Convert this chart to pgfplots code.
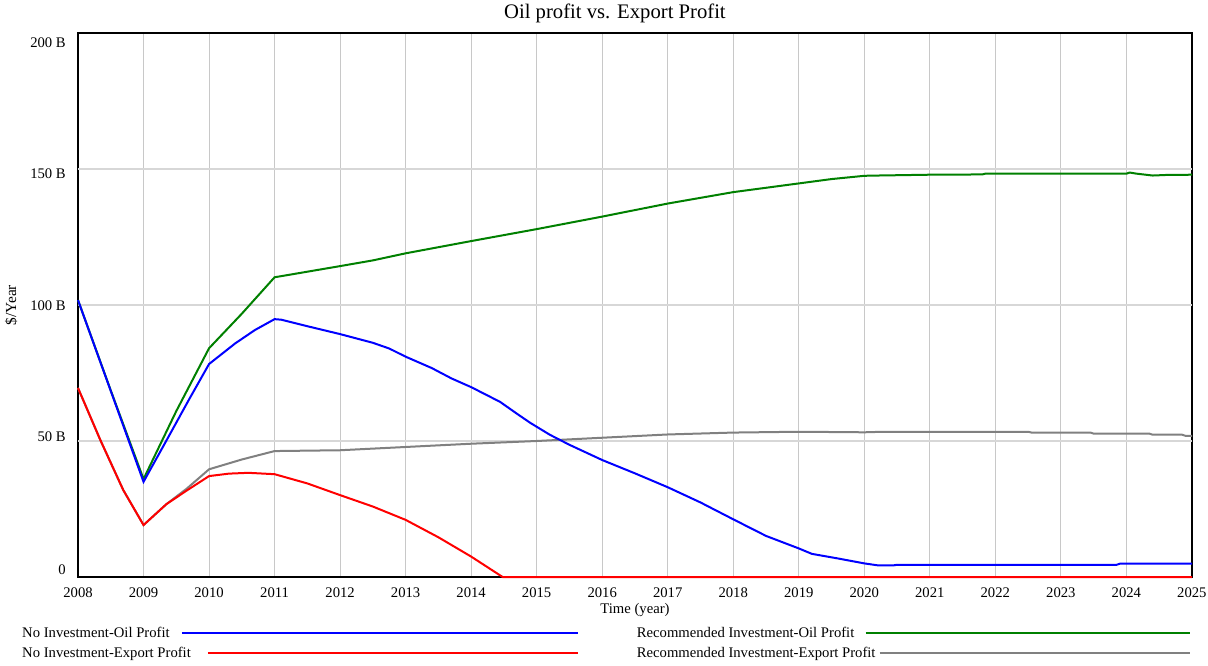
\documentclass[border=0pt]{standalone}
\usepackage{fontspec}
\setmainfont{Liberation Serif}
\usepackage{pgfplots}
\pgfplotsset{compat=1.18}
\definecolor{vblue}{RGB}{0,0,255}
\definecolor{vred}{RGB}{255,0,0}
\definecolor{vgreen}{RGB}{0,128,0}
\definecolor{vgray}{RGB}{128,128,128}
\definecolor{gridv}{RGB}{200,200,200}
\definecolor{gridh}{RGB}{215,215,215}
\begin{document}
\begin{tikzpicture}
\path[use as bounding box] (0,0) rectangle (906pt,498.75pt);
\begin{axis}[
  at={(58.5pt,66pt)}, anchor=south west,
  scale only axis, width=835.5pt, height=408pt,
  xmin=2008, xmax=2025, ymin=0, ymax=200,
  clip=false,
  xtick={2008,2009,...,2025},
  ytick={2.8,51.6,99.8,148.3,196.3},
  yticklabels={0,50 B,100 B,150 B,200 B},
  extra y ticks={50,100,150},
  extra y tick labels={},
  extra y tick style={grid=major, major grid style={gridh, line width=0.8pt}},
  xmajorgrids,
  major grid style={gridv, line width=0.8pt},
  major tick length=0pt,
  axis line style={black, line width=1.3pt},
  /pgf/number format/assume math mode=true,
  tick label style={font=\fontsize{11}{13}\selectfont},
  xticklabel style={/pgf/number format/1000 sep={}, anchor=base, yshift=-15pt},
  yticklabel style={anchor=east, inner sep=0pt, xshift=-9pt},
  xlabel={Time (year)},
  xlabel style={at={(axis description cs:0.5,-0.0673)}, anchor=base, font=\fontsize{11}{13}\selectfont},
  ylabel={\$/Year},
  ylabel style={at={(axis description cs:-0.0601,0.5)}, anchor=center, rotate=0, font=\fontsize{11.5}{13}\selectfont},
  legend columns=2,
  legend plot pos=right,
  legend cell align=left,
  legend style={at={(axis description cs:-0.0503,-0.0919)}, anchor=north west,
    draw=none, fill=none, inner sep=0pt, row sep=5.8pt,
    font=\fontsize{11}{13}\selectfont,
    nodes={inner sep=0pt},
    /tikz/column 1/.style={column sep=12pt},
    /tikz/column 2/.style={column sep=43.5pt},
    /tikz/column 3/.style={column sep=2.25pt}},
]
% drawing order: recommended first, no-investment on top
\addplot[vgreen, line width=1.5pt, forget plot] coordinates {
(2008,101.8)(2008.5,68.6)(2009,36)(2009.5,61)(2010,84.1)(2010.5,96.8)(2011,110.2)(2011.1,110.6)
(2012,114.3)(2012.5,116.4)(2013,119)(2014,123.5)(2015,127.9)(2016,132.5)(2017,137.3)
(2018,141.5)(2019,144.7)(2019.5,146.3)(2020,147.5)(2020.2,147.6)(2021,147.9)(2021.8,148.0)
(2021.85,148.3)(2024,148.3)(2024.05,148.7)(2024.15,148.3)(2024.4,147.6)(2024.6,147.8)(2025,147.9)
};
\addplot[vgray, line width=1.5pt, forget plot] coordinates {
(2008,69.5)(2008.34,50.4)(2008.69,32)(2009,19.1)(2009.35,26.8)(2009.66,32.5)(2010,39.6)
(2010.5,43.2)(2011,46.3)(2012,46.6)(2013,47.8)(2014,49)(2015,50)(2016,51.2)(2017,52.4)
(2018,53.1)(2019,53.4)(2020,53.2)(2020.3,53.4)(2022.5,53.4)(2022.55,53.1)(2023.45,53.1)
(2023.5,52.7)(2024.35,52.7)(2024.4,52.3)(2024.85,52.3)(2024.9,51.9)(2025,51.9)
};
\addplot[vblue, line width=1.5pt, forget plot] coordinates {
(2008,101.8)(2008.5,68.4)(2009,35)(2009.35,50.2)(2009.7,65.5)(2010,78.3)(2010.4,85.9)
(2010.7,90.8)(2011,94.8)(2011.1,94.6)(2011.5,92.2)(2012,89.3)(2012.5,86.1)(2012.75,84)
(2013,81)(2013.4,76.8)(2013.7,73)(2014,69.8)(2014.44,64.4)(2014.7,60)(2014.9,56.7)
(2015.2,52.3)(2015.5,48.6)(2016,43)(2016.5,38.1)(2017,33)(2017.5,27.4)(2018,21.2)
(2018.5,15.1)(2019,10.5)(2019.2,8.5)(2019.6,6.8)(2020,5.0)(2020.2,4.3)(2020.45,4.3)
(2020.5,4.5)(2023.85,4.5)(2023.9,4.9)(2025,4.9)
};
\addplot[vred, line width=1.5pt, forget plot] coordinates {
(2008,69.5)(2008.34,50.4)(2008.69,32)(2009,19.1)(2009.35,26.8)(2009.66,31.8)(2010,37.1)
(2010.3,38)(2010.6,38.3)(2011,37.8)(2011.5,34.4)(2012,30.1)(2012.5,25.9)(2013,21)
(2013.5,14.6)(2014,7.5)(2014.48,0)(2025,0)
};
\addlegendimage{legend image code/.code={
  \draw[vblue,line width=1.5pt] (0pt,0pt) -- (277.5pt,0pt);
  \draw[vblue,line width=1.5pt,overlay] (-19.5pt,0pt) -- (1pt,0pt);}}
\addlegendentry{No Investment-Oil Profit}
\addlegendimage{legend image code/.code={
  \draw[vgreen,line width=1.5pt] (0pt,0pt) -- (232.5pt,0pt);
  \draw[vgreen,line width=1.5pt,overlay] (-10.5pt,0pt) -- (1pt,0pt);}}
\addlegendentry{Recommended Investment-Oil Profit}
\addlegendimage{legend image code/.code={
  \draw[vred,line width=1.5pt] (0pt,0pt) -- (277.5pt,0pt);}}
\addlegendentry{No Investment-Export Profit}
\addlegendimage{legend image code/.code={
  \draw[vgray,line width=1.5pt] (0pt,0pt) -- (232.5pt,0pt);}}
\addlegendentry{Recommended Investment-Export Profit}
\node[anchor=base, inner sep=0pt, font=\fontsize{15.5}{18}\selectfont]
  at (axis description cs:0.482,1.0265) {Oil profit vs. Export Profit};
\end{axis}
\end{tikzpicture}
\end{document}
